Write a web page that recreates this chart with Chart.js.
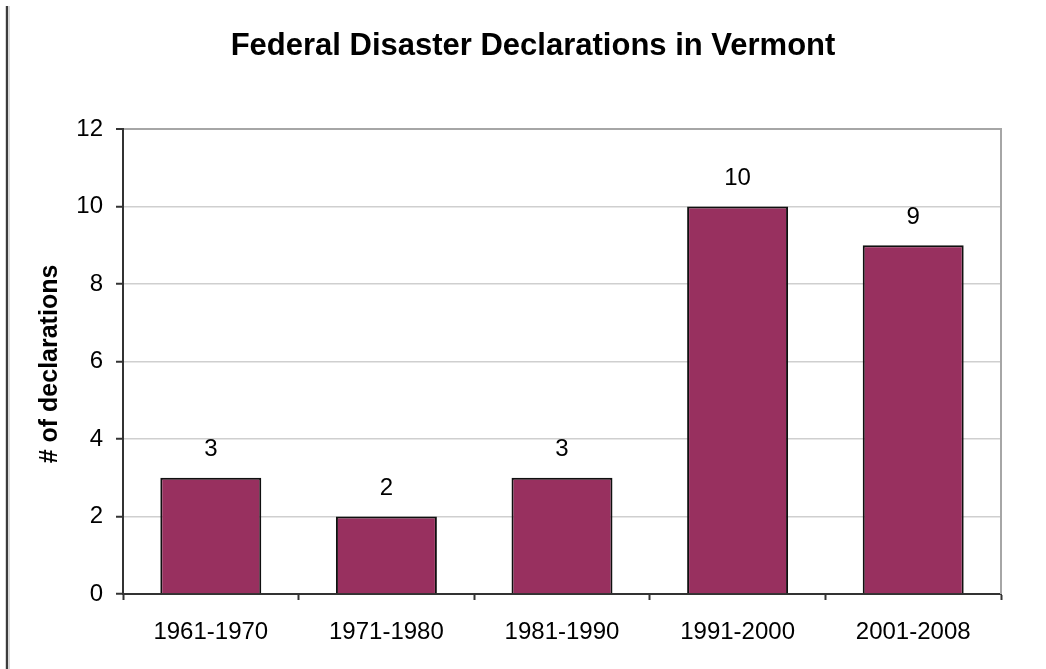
<!DOCTYPE html>
<html>
<head>
<meta charset="utf-8">
<script src="https://cdn.jsdelivr.net/npm/chart.js@4/dist/chart.umd.min.js"></script>
<style>
  html, body { margin: 0; padding: 0; background: #ffffff; }
  #wrap { width: 1046px; height: 669px; position: relative; }
</style>
</head>
<body>
<div id="wrap"><canvas id="c" width="1046" height="669"></canvas></div>
<script>
const chartTitle = "Federal Disaster Declarations in Vermont";
const captionText = "Table 1: Federal Disaster Declarations";
const yAxisTitle = "# of declarations";
const categories = ["1961-1970", "1971-1980", "1981-1990", "1991-2000", "2001-2008"];
const declarations = [3, 2, 3, 10, 9];
const yTicks = [0, 2, 4, 6, 8, 10, 12];

const FONT = "'Liberation Sans', Arial, sans-serif";

const decorPlugin = {
  id: 'decor',
  afterDraw(chart) {
    const ctx = chart.ctx;
    const area = chart.chartArea;
    ctx.save();
    // page left rule
    ctx.fillStyle = '#d8d8d8';
    ctx.fillRect(5, 6, 5, 663);
    ctx.fillStyle = '#3c3c3c';
    ctx.fillRect(6, 6, 2, 663);
    // cut-off caption at top
    ctx.fillStyle = '#b0b0b0';
    ctx.font = '22px ' + FONT;
    ctx.textAlign = 'center';
    ctx.textBaseline = 'alphabetic';
    ctx.fillText(captionText, 385, -2);
    // plot area right border
    ctx.strokeStyle = '#a6a6a6';
    ctx.lineWidth = 2;
    ctx.beginPath();
    ctx.moveTo(area.right, area.top - 1);
    ctx.lineTo(area.right, area.bottom);
    ctx.stroke();
    // title
    ctx.fillStyle = '#000000';
    ctx.font = 'bold 31px ' + FONT;
    ctx.textAlign = 'center';
    ctx.textBaseline = 'middle';
    ctx.fillText(chartTitle, 533, 46);
    // y axis title
    ctx.save();
    ctx.translate(50, 364);
    ctx.rotate(-Math.PI / 2);
    ctx.font = 'bold 25px ' + FONT;
    ctx.fillText(yAxisTitle, 0, 0);
    ctx.restore();
    // value labels
    const meta = chart.getDatasetMeta(0);
    ctx.font = '24px ' + FONT;
    ctx.fillStyle = '#000000';
    meta.data.forEach((bar, i) => {
      ctx.fillText(String(declarations[i]), bar.x, bar.y - 28);
    });
    ctx.restore();
  }
};

new Chart(document.getElementById('c'), {
  type: 'bar',
  data: {
    labels: categories,
    datasets: [{
      data: declarations,
      backgroundColor: '#98305f',
      borderColor: '#101010',
      borderWidth: 2,
      barPercentage: 0.575,
      categoryPercentage: 1.0
    }]
  },
  options: {
    responsive: false,
    animation: false,
    devicePixelRatio: 1,
    layout: { padding: { top: 129, right: 45, bottom: 0, left: 0 } },
    plugins: {
      legend: { display: false },
      title: { display: false },
      tooltip: { enabled: false }
    },
    scales: {
      x: {
        afterFit(scale) { scale.height = 75; },
        grid: {
          offset: true,
          drawOnChartArea: false,
          drawTicks: true,
          tickLength: 6,
          tickColor: '#333333',
          tickWidth: 2
        },
        border: { display: true, color: '#333333', width: 2 },
        ticks: {
          color: '#000000',
          font: { family: FONT, size: 24 },
          padding: 18,
          maxRotation: 0
        }
      },
      y: {
        min: 0,
        max: 12,
        afterFit(scale) { scale.width = 123; },
        afterBuildTicks(scale) { scale.ticks = yTicks.map(v => ({ value: v })); },
        grid: {
          color: ctx => (ctx.tick && ctx.tick.value === 12) ? '#a6a6a6' : '#cfcfcf',
          lineWidth: ctx => (ctx.tick && ctx.tick.value === 12) ? 2 : 1.5,
          drawTicks: true,
          tickLength: 7,
          tickColor: '#333333',
          tickWidth: 2
        },
        border: { display: true, color: '#333333', width: 2 },
        ticks: {
          color: '#000000',
          font: { family: FONT, size: 24 },
          padding: 13
        }
      }
    }
  },
  plugins: [decorPlugin]
});
</script>
</body>
</html>
